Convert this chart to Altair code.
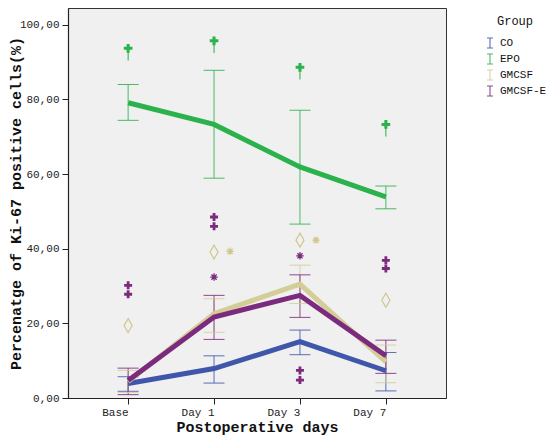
import altair as alt
import pandas as pd

days = ["Base", "Day 1", "Day 3", "Day 7"]
groups = ["CO", "EPO", "GMCSF", "GMCSF-E"]
colors = ["#3f56aa", "#2bb24c", "#d4cd98", "#7b2a7e"]

co_mean = [3.9, 7.9, 15.1, 7.3]
co_lo = [1.8, 4.0, 11.6, 1.9]
co_hi = [5.7, 11.3, 18.2, 12.2]

epo_mean = [79.1, 73.3, 61.9, 53.9]
epo_lo = [74.4, 58.9, 46.6, 50.7]
epo_hi = [84.0, 87.8, 77.1, 56.8]

gm_mean = [4.4, 22.6, 30.5, 9.7]
gm_lo = [1.5, 17.6, 25.3, 4.1]
gm_hi = [7.4, 26.6, 35.6, 14.2]

gme_mean = [4.7, 21.7, 27.5, 11.3]
gme_lo = [0.9, 15.7, 21.6, 6.6]
gme_hi = [8.0, 27.5, 33.0, 15.5]

# outliers / extremes
epo_out_day = ["Base", "Day 1", "Day 3", "Day 7"]
epo_out_val = [93.7, 95.7, 88.6, 73.3]
gme_ext_day = ["Base", "Base", "Day 1", "Day 1", "Day 3", "Day 3", "Day 7", "Day 7"]
gme_ext_val = [30.2, 27.8, 48.5, 46.0, 7.4, 4.8, 36.9, 34.7]
gme_ast_day = ["Day 1", "Day 3"]
gme_ast_val = [32.4, 38.1]
gm_dia_day = ["Base", "Day 1", "Day 3", "Day 7"]
gm_dia_val = [19.4, 39.1, 42.3, 26.2]
gm_ast_day = ["Day 1", "Day 3"]
gm_ast_val = [39.3, 42.3]

rows = []
for g, m, lo, hi in [("CO", co_mean, co_lo, co_hi), ("EPO", epo_mean, epo_lo, epo_hi),
                     ("GMCSF", gm_mean, gm_lo, gm_hi), ("GMCSF-E", gme_mean, gme_lo, gme_hi)]:
    for d, a, b, c in zip(days, m, lo, hi):
        rows.append({"day": d, "group": g, "mean": a, "lo": b, "hi": c})
df = pd.DataFrame(rows)

FONT = "Liberation Mono, Courier New, DejaVu Sans Mono, monospace"
xscale = alt.Scale(type="point", padding=0.7, domain=days)
yscale = alt.Scale(domain=[0, 104.5], nice=False, zero=False)
cscale = alt.Scale(domain=groups, range=colors)

X = alt.X("day:N", scale=xscale, sort=days,
          axis=alt.Axis(title="Postoperative days", labelAngle=0, titleY=28,
                        titleBaseline="middle", labelPadding=8))
Xn = alt.X("day:N", scale=xscale, sort=days)
Y = alt.Y("mean:Q", scale=yscale,
          axis=alt.Axis(title="Percenatge of Ki-67 positive cells(%)",
                        values=[0, 20, 40, 60, 80, 100],
                        labelExpr="replace(format(datum.value, '.2f'), '.', ',')",
                        titleX=-53, titleAngle=270, titleBaseline="middle"))

ibeam = "M-0.6,-1H0.6M0,-1V1M-0.6,1H0.6"
cross = "M-0.35,-1H0.35V-0.35H1V0.35H0.35V1H-0.35V0.35H-1V-0.35H-0.35Z"
cross_stem = cross + "M-0.12,0.35H0.12V2.8H-0.12Z"
diamond = "M0,-1.55L0.9,0L0,1.55L-0.9,0Z"
aster = "M-1,0H1M0,-1V1M-0.7,-0.7L0.7,0.7M-0.7,0.7L0.7,-0.7"

legend = alt.Legend(title="Group", orient="none", legendX=416, legendY=8,
                    symbolType=ibeam, symbolSize=100,
                    symbolStrokeWidth=1.1, titleAnchor="middle",
                    titlePadding=9, rowPadding=0)
col = alt.Color("group:N", scale=cscale, legend=legend)

base = alt.Chart(df)

rules = base.mark_rule(strokeWidth=1, opacity=0.85).encode(
    x=Xn, y=alt.Y("lo:Q", scale=yscale), y2="hi:Q", color=col)
tick_lo = base.mark_tick(size=21, thickness=1, opacity=0.85).encode(
    x=Xn, y=alt.Y("lo:Q", scale=yscale), color=col)
tick_hi = base.mark_tick(size=21, thickness=1, opacity=0.85).encode(
    x=Xn, y=alt.Y("hi:Q", scale=yscale), color=col)

lines = base.mark_line(strokeWidth=5).encode(
    x=X, y=Y, color=col, detail="group:N")

epo_out = alt.Chart(pd.DataFrame({"day": epo_out_day, "v": epo_out_val})).mark_point(
    shape=cross_stem, size=75, filled=True, color=colors[1], opacity=1).encode(
    x=Xn, y=alt.Y("v:Q", scale=yscale))
gme_ext = alt.Chart(pd.DataFrame({"day": gme_ext_day, "v": gme_ext_val})).mark_point(
    shape=cross, size=64, filled=True, color=colors[3], opacity=1).encode(
    x=Xn, y=alt.Y("v:Q", scale=yscale))
gme_ast = alt.Chart(pd.DataFrame({"day": gme_ast_day, "v": gme_ast_val})).mark_point(
    shape=aster, size=55, filled=False, strokeWidth=1.3, color=colors[3], opacity=1).encode(
    x=Xn, y=alt.Y("v:Q", scale=yscale))
gm_dia = alt.Chart(pd.DataFrame({"day": gm_dia_day, "v": gm_dia_val})).mark_point(
    shape=diamond, size=81, filled=False, strokeWidth=1.2, color="#cfc78e", opacity=1).encode(
    x=Xn, y=alt.Y("v:Q", scale=yscale))
gm_ast = alt.Chart(pd.DataFrame({"day": gm_ast_day, "v": gm_ast_val})).mark_point(
    shape=aster, size=55, filled=False, strokeWidth=1.3, color="#cfc78e", opacity=1,
    xOffset=16).encode(
    x=Xn, y=alt.Y("v:Q", scale=yscale))

chart = alt.layer(rules, tick_lo, tick_hi, lines, epo_out, gme_ext, gme_ast, gm_dia, gm_ast).properties(
    width=378, height=390,
    padding={"left": 60, "top": 0, "right": 102, "bottom": 38},
    autosize=alt.AutoSizeParams(type="none"),
    background="white",
).configure_view(
    fill="#f0f0f0", stroke="#333333", strokeWidth=1
).configure_axis(
    labelFont=FONT, labelFontSize=11, labelColor="#222222",
    titleFont=FONT, titleFontSize=15, titleFontWeight="bold", titleColor="#111111",
    domainColor="#222222", domainWidth=1.2, tickColor="#222222", tickSize=6,
    labelPadding=3, grid=False
).configure_legend(
    titleFont=FONT, titleFontSize=12, titleFontWeight="normal", titleColor="#111111",
    labelFont=FONT, labelFontSize=11, labelColor="#111111"
)

chart.save("out.html", embed_options={"renderer": "svg", "actions": False})
